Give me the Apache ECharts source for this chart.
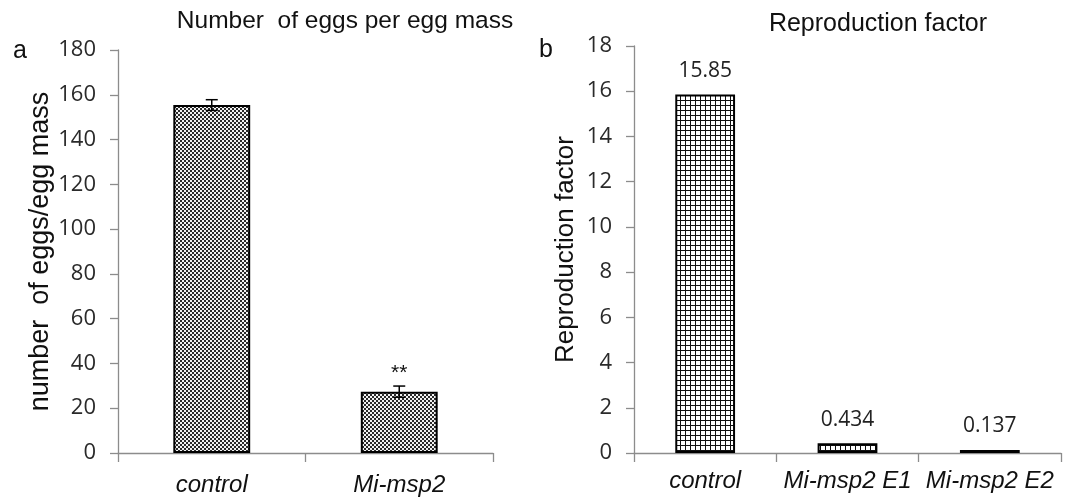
<!DOCTYPE html>
<html>
<head>
<meta charset="utf-8">
<script src="https://cdn.jsdelivr.net/npm/echarts@6/dist/echarts.min.js"></script>
<style>
html,body{margin:0;padding:0;background:#fff;}
#chart{width:1075px;height:498px;}
</style>
</head>
<body>
<div id="chart"></div>
<script>
// ---- data ----
const eggCategories = ['control', 'Mi-msp2'];
const eggMeans = [155.4, 27.4];
const eggErrors = [2.4, 2.5];
const eggSignificance = ['', '**'];
const eggAxis = { min: 0, max: 180, interval: 20 };

const rfCategories = ['control', 'Mi-msp2 E1', 'Mi-msp2 E2'];
const rfValues = [15.85, 0.434, 0.137];
const rfAxis = { min: 0, max: 18, interval: 2 };

const titleA = 'Number  of eggs per egg mass';
const titleB = 'Reproduction factor';
const yNameA = 'number  of eggs/egg mass';
const yNameB = 'Reproduction factor';

// ---- patterns ----
function checkerPattern() {
  const c = document.createElement('canvas');
  c.width = 4; c.height = 4;
  const g = c.getContext('2d');
  g.fillStyle = '#f2f2f2'; g.fillRect(0, 0, 4, 4);
  g.fillStyle = '#2a2a2a';
  g.fillRect(0, 0, 2, 2); g.fillRect(2, 2, 2, 2);
  return { image: c, repeat: 'repeat' };
}
function gridPattern() {
  const c = document.createElement('canvas');
  c.width = 5; c.height = 5;
  const g = c.getContext('2d');
  g.fillStyle = '#ffffff'; g.fillRect(0, 0, 5, 5);
  g.fillStyle = '#111111';
  g.fillRect(0, 0, 5, 1); g.fillRect(0, 0, 1, 5);
  return { image: c, repeat: 'repeat' };
}

const axisGray = '#8c8c8c';
const tickFont = 'Open Sans';
const textFont = 'Liberation Sans';

function valueAxis(gridIndex, cfg, name, gap, nameSize) {
  return {
    type: 'value', gridIndex: gridIndex,
    min: cfg.min, max: cfg.max, interval: cfg.interval,
    name: name, nameLocation: 'middle', nameGap: gap,
    nameTextStyle: { fontFamily: textFont, fontSize: nameSize, color: '#111' },
    axisLine: { show: true, lineStyle: { color: axisGray, width: 1.3 } },
    axisTick: { show: true, length: 8, lineStyle: { color: axisGray, width: 1.3 } },
    splitLine: { show: false },
    axisLabel: { fontFamily: tickFont, fontSize: 22, color: '#2a2a2a', margin: 22 }
  };
}
function catAxis(gridIndex, cats, margin) {
  return {
    type: 'category', gridIndex: gridIndex, data: cats,
    axisLine: { show: true, lineStyle: { color: axisGray, width: 1.3 } },
    axisTick: { show: true, length: 9, lineStyle: { color: axisGray, width: 1.3 } },
    axisLabel: { interval: 0, hideOverlap: false, fontFamily: textFont, fontStyle: 'italic', fontSize: 24, color: '#111', margin: margin }
  };
}

const errData = eggMeans.map((m, i) => [i, m, eggErrors[i]]);

const chart = echarts.init(document.getElementById('chart'), null, { renderer: 'canvas' });
chart.setOption({
  animation: false,
  backgroundColor: '#ffffff',
  grid: [
    { left: 118, right: 582, top: 50, bottom: 45 },
    { left: 634, right: 14, top: 46, bottom: 45 }
  ],
  xAxis: [catAxis(0, eggCategories, 20), catAxis(1, rfCategories, 16)],
  yAxis: [valueAxis(0, eggAxis, yNameA, 61, 27), valueAxis(1, rfAxis, yNameB, 55, 26)],
  graphic: [
    { type: 'text', style: { text: titleA, x: 345, y: 21, fontFamily: textFont, fontSize: 24.5, fill: '#111', align: 'center', verticalAlign: 'middle' } },
    { type: 'text', style: { text: titleB, x: 878, y: 24, fontFamily: textFont, fontSize: 25, fill: '#111', align: 'center', verticalAlign: 'middle' } },
    { type: 'text', style: { text: 'a', x: 20, y: 51, fontFamily: textFont, fontSize: 25, fill: '#111', align: 'center', verticalAlign: 'middle' } },
    { type: 'text', style: { text: 'b', x: 546, y: 50, fontFamily: textFont, fontSize: 25, fill: '#111', align: 'center', verticalAlign: 'middle' } }
  ],
  series: [
    {
      type: 'bar', xAxisIndex: 0, yAxisIndex: 0, data: eggMeans, barWidth: '41%',
      itemStyle: { color: checkerPattern(), borderColor: '#000', borderWidth: 2 }
    },
    {
      type: 'custom', xAxisIndex: 0, yAxisIndex: 0, data: errData, z: 10,
      renderItem: function (params, api) {
        const x = api.value(0), m = api.value(1), e = api.value(2);
        const hi = api.coord([x, m + e]);
        const lo = api.coord([x, m - e]);
        const hw = 6;
        const ls = { stroke: '#000', lineWidth: 1.5 };
        const sig = eggSignificance[params.dataIndex];
        const children = [
          { type: 'line', shape: { x1: hi[0], y1: hi[1], x2: lo[0], y2: lo[1] }, style: ls },
          { type: 'line', shape: { x1: hi[0] - hw, y1: hi[1], x2: hi[0] + hw, y2: hi[1] }, style: ls },
          { type: 'line', shape: { x1: lo[0] - hw, y1: lo[1], x2: lo[0] + hw, y2: lo[1] }, style: ls }
        ];
        if (sig) {
          children.push({ type: 'text', style: { text: sig, x: hi[0], y: hi[1] - 2, fontFamily: textFont, fontSize: 21, fill: '#111', align: 'center', verticalAlign: 'bottom' } });
        }
        return { type: 'group', children: children };
      }
    },
    {
      type: 'bar', xAxisIndex: 1, yAxisIndex: 1, data: rfValues, barWidth: '42%',
      itemStyle: { color: gridPattern(), borderColor: '#000', borderWidth: 2 },
      label: { show: true, position: 'top', distance: 13, fontFamily: tickFont, fontSize: 21, color: '#222',
        formatter: function (p) { return String(rfValues[p.dataIndex]); } }
    }
  ]
});
</script>
</body>
</html>
